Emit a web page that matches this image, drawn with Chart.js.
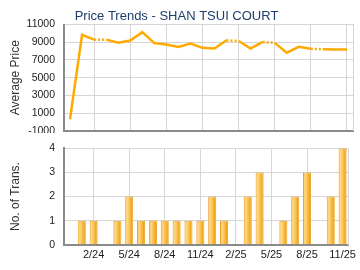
<!DOCTYPE html>
<html>
<head>
<meta charset="utf-8">
<script src="https://cdn.jsdelivr.net/npm/chart.js@4/dist/chart.umd.min.js"></script>
<style>
  html, body { margin: 0; padding: 0; background: #fff; }
  #wrap { position: relative; width: 360px; height: 270px; overflow: hidden; background: #fff; }
  #graficoPreco { position: absolute; left: 0; top: 0; }
  #graficoTransacoes { position: absolute; left: 0; top: 133px; background: #fff; }
</style>
</head>
<body>
<div id="wrap">
  <canvas id="graficoPreco" width="360" height="146"></canvas>
  <canvas id="graficoTransacoes" width="360" height="133"></canvas>
</div>
<script>
// Dados
const meses = ['12/23', '1/24', '2/24', '3/24', '4/24', '5/24', '6/24', '7/24', '8/24', '9/24', '10/24', '11/24',
               '12/24', '1/25', '2/25', '3/25', '4/25', '5/25', '6/25', '7/25', '8/25', '9/25', '10/25', '11/25'];
const precoMedio = [300, 9850, 9300, 9300, 8950, 9200, 10150, 8900, 8750, 8480, 8850, 8370,
                    8300, 9220, 9150, 8300, 9040, 8930, 7820, 8480, 8260, 8220, 8190, 8190];
const transacoes = [0, 1, 1, 0, 1, 2, 1, 1, 1, 1, 1, 1,
                    2, 1, 0, 2, 3, 0, 1, 2, 3, 0, 2, 4];
const rotulosX = ['2/24', '5/24', '8/24', '11/24', '2/25', '5/25', '8/25', '11/25'];
const ticksPreco = [-1000, 1000, 3000, 5000, 7000, 9000, 11000];
const ticksTransacoes = [0, 1, 2, 3, 4];

const fonte = 'Liberation Sans, Arial, sans-serif';
const corGrade = '#d6d6d6';
const corEixo = '#8a8a8a';

document.addEventListener('DOMContentLoaded', () => {
  criarGraficoPreco();
  criarGraficoTransacoes();
});

function temRotulo(i) {
  return rotulosX.includes(meses[i]);
}

function eixoX(mostrarRotulos) {
  return {
    offset: true,
    grid: {
      offset: false,
      drawTicks: false,
      color: c => temRotulo(c.index) ? corGrade : 'rgba(0,0,0,0)'
    },
    border: { color: corEixo, width: 2 },
    ticks: {
      display: mostrarRotulos,
      autoSkip: false,
      maxRotation: 0,
      padding: 4,
      color: '#222',
      font: { family: fonte, size: 11 },
      callback: (v, i) => temRotulo(i) ? meses[i] : ''
    }
  };
}

function eixoY(titulo, min, max, valores) {
  return {
    min: min,
    max: max,
    afterBuildTicks: s => { s.ticks = valores.map(v => ({ value: v })); },
    afterFit: s => { s.width = 64; },
    grid: { color: corGrade, drawTicks: false },
    border: { color: corEixo, width: 2 },
    ticks: {
      padding: 9,
      color: '#222',
      font: { family: fonte, size: 10.5 },
      callback: v => String(v)
    },
    title: {
      display: true,
      text: titulo,
      color: '#333',
      padding: { top: 8, bottom: 4 },
      font: { family: fonte, size: 12 }
    }
  };
}

function eixoDireita() {
  return {
    position: 'right',
    grid: { display: false, drawTicks: false },
    ticks: { display: false },
    border: { color: corGrade, width: 1 },
    afterFit: s => { s.width = 0; }
  };
}

function criarGraficoPreco() {
  const ctx = document.getElementById('graficoPreco').getContext('2d');

  new Chart(ctx, {
    type: 'line',
    data: {
      labels: meses,
      datasets: [{
        data: precoMedio,
        borderColor: '#ffaa00',
        borderWidth: 2.5,
        pointRadius: 0,
        tension: 0,
        segment: {
          // meses sem transação ficam pontilhados
          borderDash: c => transacoes[c.p1DataIndex] === 0 ? [2, 2] : undefined
        }
      }]
    },
    options: {
      responsive: false,
      animation: false,
      devicePixelRatio: 1,
      layout: { padding: { left: 0, right: 7, top: 0, bottom: 0 } },
      plugins: {
        legend: { display: false },
        tooltip: { enabled: false },
        title: {
          display: true,
          text: 'Price Trends - SHAN TSUI COURT',
          color: '#1d3d6b',
          font: { family: fonte, size: 13, weight: 'normal' },
          padding: { top: 9, bottom: 0 }
        }
      },
      scales: {
        x: eixoX(false),
        y: eixoY('Average Price', -1000, 11000, ticksPreco),
        yDireita: eixoDireita()
      }
    }
  });
}

function criarGraficoTransacoes() {
  const ctx = document.getElementById('graficoTransacoes').getContext('2d');

  const grafico = new Chart(ctx, {
    type: 'bar',
    data: {
      labels: meses,
      datasets: [{
        data: transacoes,
        backgroundColor: c => {
          const el = c.element;
          if (!el || !el.width) return '#f8c052';
          const g = c.chart.ctx.createLinearGradient(el.x - el.width / 2, 0, el.x + el.width / 2, 0);
          g.addColorStop(0, '#f6b43a');
          g.addColorStop(0.25, '#fed888');
          g.addColorStop(0.55, '#f9c04f');
          g.addColorStop(0.85, '#f1a20e');
          g.addColorStop(1, '#f0a21a');
          return g;
        },
        borderColor: '#eda52c',
        borderWidth: 1,
        categoryPercentage: 1,
        barPercentage: 0.68
      }]
    },
    options: {
      responsive: false,
      animation: false,
      devicePixelRatio: 1,
      layout: { padding: { left: 0, right: 1.4, top: 6.7, bottom: 0 } },
      plugins: {
        legend: { display: false },
        tooltip: { enabled: false }
      },
      scales: {
        x: eixoX(true),
        y: eixoY('No. of Trans.', 0, 4, ticksTransacoes),
        yDireita: eixoDireita()
      }
    }
  });

  // segunda passada para o degradê usar a posição das barras
  grafico.update();
}
</script>
</body>
</html>
